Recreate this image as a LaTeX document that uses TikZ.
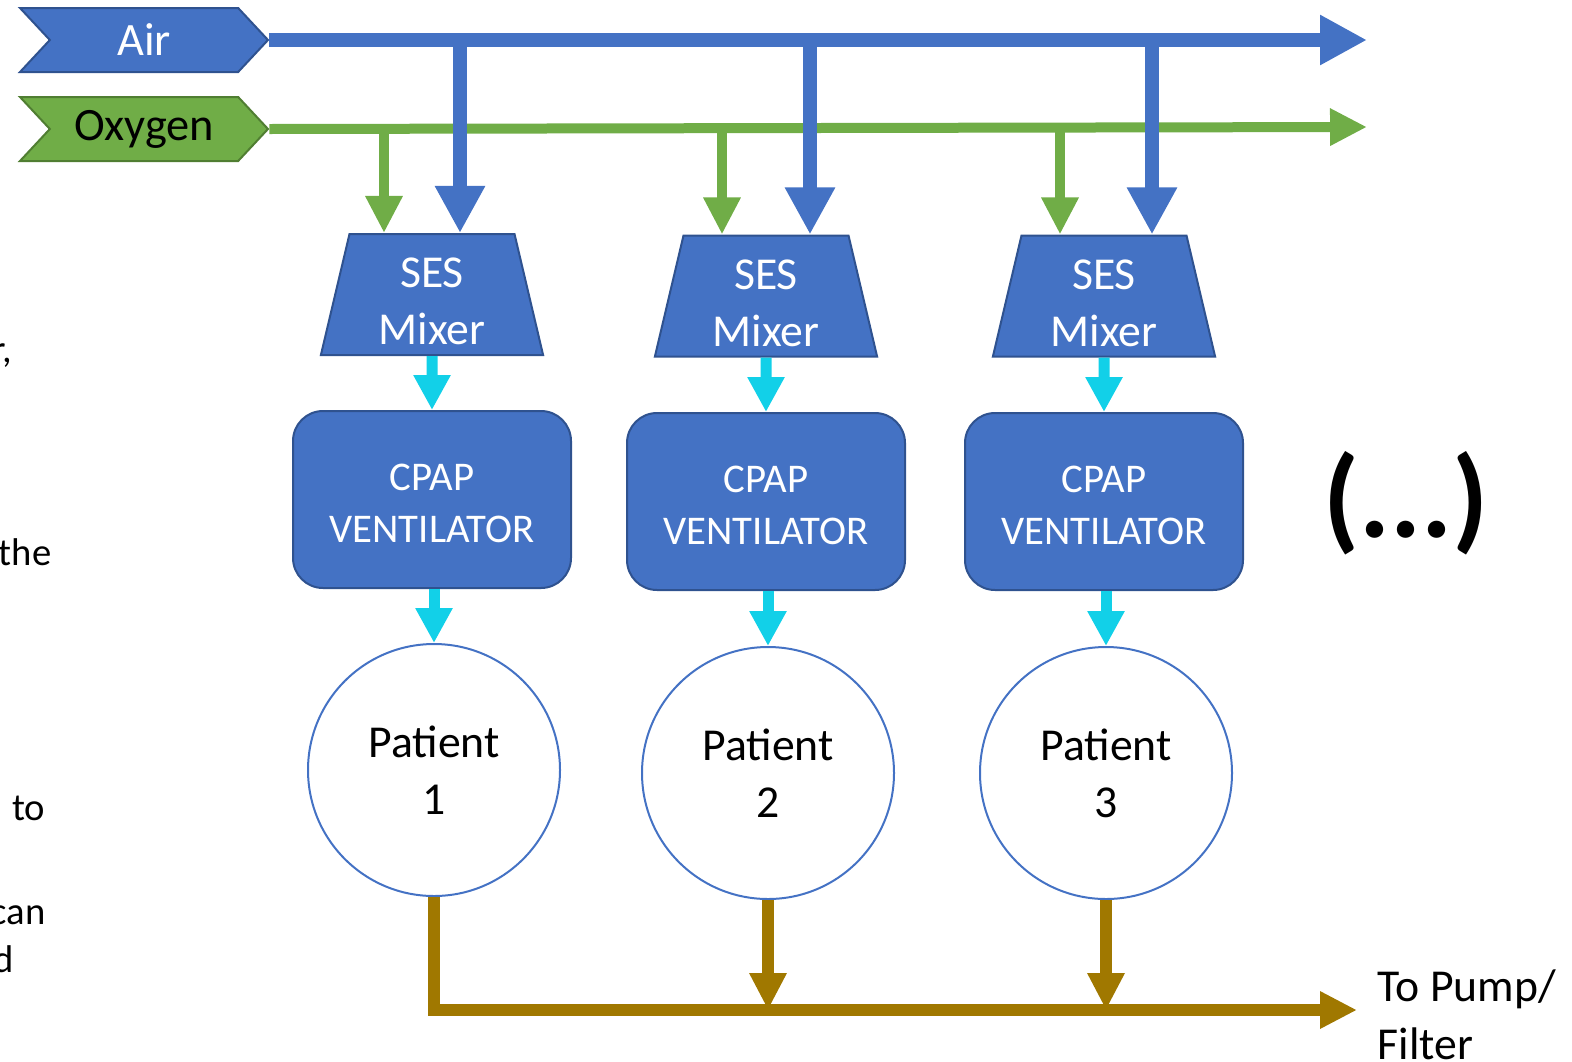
\documentclass[tikz,border=0pt]{standalone}
\usepackage{fontspec}
\setmainfont{Carlito}
\usetikzlibrary{arrows.meta,shapes.geometric,shapes.symbols}
\definecolor{airblue}{HTML}{4472C4}
\definecolor{airedge}{HTML}{2F528F}
\definecolor{oxgreen}{HTML}{70AD47}
\definecolor{oxedge}{HTML}{507E32}
\definecolor{flowcyan}{HTML}{12D0E8}
\definecolor{outbrown}{HTML}{A07800}
\begin{document}
\begin{tikzpicture}[x=0.1mm,y=-0.1mm,
  gas/.style={signal, signal to=east, signal from=west, signal pointer angle=94, minimum width=24.8mm, minimum height=6.4mm, inner sep=0pt, line width=0.2mm, font=\fontsize{13.2}{16}\selectfont},
  boxtext/.style={text=white, align=center, inner sep=0pt},
  mixer/.style={trapezium, trapezium left angle=76.7, trapezium right angle=76.7, text width=16.5mm, text height=12.1mm, text depth=0pt, inner sep=0pt, fill=airblue, draw=airedge, line width=0.2mm, label={[boxtext, yshift=-0.7mm, font=\fontsize{13}{16.2}\selectfont]center:#1}},
  vent/.style={rectangle, rounded corners=3mm, minimum width=27.8mm, minimum height=17.7mm, fill=airblue, draw=airedge, line width=0.2mm, label={[boxtext, yshift=-0.4mm, font=\fontsize{11.6}{14.8}\selectfont]center:#1}},
  patient/.style={circle, minimum size=25.2mm, draw=airblue, line width=0.2mm, align=center, font=\fontsize{13}{16.2}\selectfont},
  airflow/.style={airblue, line width=1.4mm, -{Triangle[length=4.7mm,width=4.7mm]}},
  oxflow/.style={oxgreen, line width=1mm, -{Triangle[length=3.7mm,width=3.5mm]}},
  mixflow/.style={flowcyan, line width=1.1mm, -{Triangle[length=3.5mm,width=3.5mm]}},
  outflow/.style={outbrown, line width=1.2mm, -{Triangle[length=3.7mm,width=3.5mm]}},
  frag/.style={anchor=base east, inner sep=0pt, font=\fontsize{11}{13}\selectfont}]
\useasboundingbox (0,0) rectangle (1572,1061);

\node[gas, fill=airblue, draw=airedge, text=white] (air) at (144,40){Air};
\node[gas, fill=oxgreen, draw=oxedge] (oxy) at (144,129){Oxygen};
\coordinate (airend) at (1367,40);
\coordinate (oxyend) at (1367,127);

\node[mixer={SES\\Mixer}] (mix1) at (432,294.5){};
\node[mixer={SES\\Mixer}] (mix2) at (766,296){};
\node[mixer={SES\\Mixer}] (mix3) at (1104,296){};
\node[vent={CPAP\\VENTILATOR}] (cpap1) at (432,499.5){};
\node[vent={CPAP\\VENTILATOR}] (cpap2) at (766,501.5){};
\node[vent={CPAP\\VENTILATOR}] (cpap3) at (1104,501.5){};
\node[patient] (pat1) at (434,770){Patient\\1};
\node[patient] (pat2) at (768,773){Patient\\2};
\node[patient] (pat3) at (1106,773){Patient\\3};

\coordinate (ab1) at (460,40);
\coordinate (ab2) at (810,40);
\coordinate (ab3) at (1152,40);
\coordinate (ob1) at (384,128);
\coordinate (ob2) at (722,128);
\coordinate (ob3) at (1060,128);

\draw[oxflow](oxy.east) -- (oxyend);
\draw[oxflow](ob1) -- (ob1 |- mix1.north);
\draw[oxflow](ob2) -- (ob2 |- mix2.north);
\draw[oxflow](ob3) -- (ob3 |- mix3.north);
\draw[airflow](air.east) -- (airend);
\draw[airflow](ab1) -- (ab1 |- mix1.north);
\draw[airflow](ab2) -- (ab2 |- mix2.north);
\draw[airflow](ab3) -- (ab3 |- mix3.north);

\draw[mixflow](mix1.south) -- (cpap1.north);
\draw[mixflow](mix2.south) -- (cpap2.north);
\draw[mixflow](mix3.south) -- (cpap3.north);
\draw[mixflow](pat1.north |- cpap1.south) -- (pat1.north);
\draw[mixflow](pat2.north |- cpap2.south) -- (pat2.north);
\draw[mixflow](pat3.north |- cpap3.south) -- (pat3.north);

\coordinate (outend) at (1357,1010);
\draw[outflow](pat1.south) -- (pat1.south |- outend) -- (outend);
\draw[outflow](pat2.south) -- (pat2.south |- outend);
\draw[outflow](pat3.south) -- (pat3.south |- outend);
\node[anchor=north west, align=left, inner sep=0pt, font=\fontsize{13}{16.4}\selectfont] (pump) at (1377,969){To Pump/\\Filter};

\node[font=\fontsize{33}{40}\selectfont\bfseries] (more) at (1406,503){(...)};

\node[frag] (fr1) at (13,362){r,};
\node[frag] (fr2) at (52,565){the};
\node[frag] (fr3) at (46,820){to};
\node[frag] (fr4) at (46,924){can};
\node[frag] (fr5) at (15,972){d};

\end{tikzpicture}
\end{document}
